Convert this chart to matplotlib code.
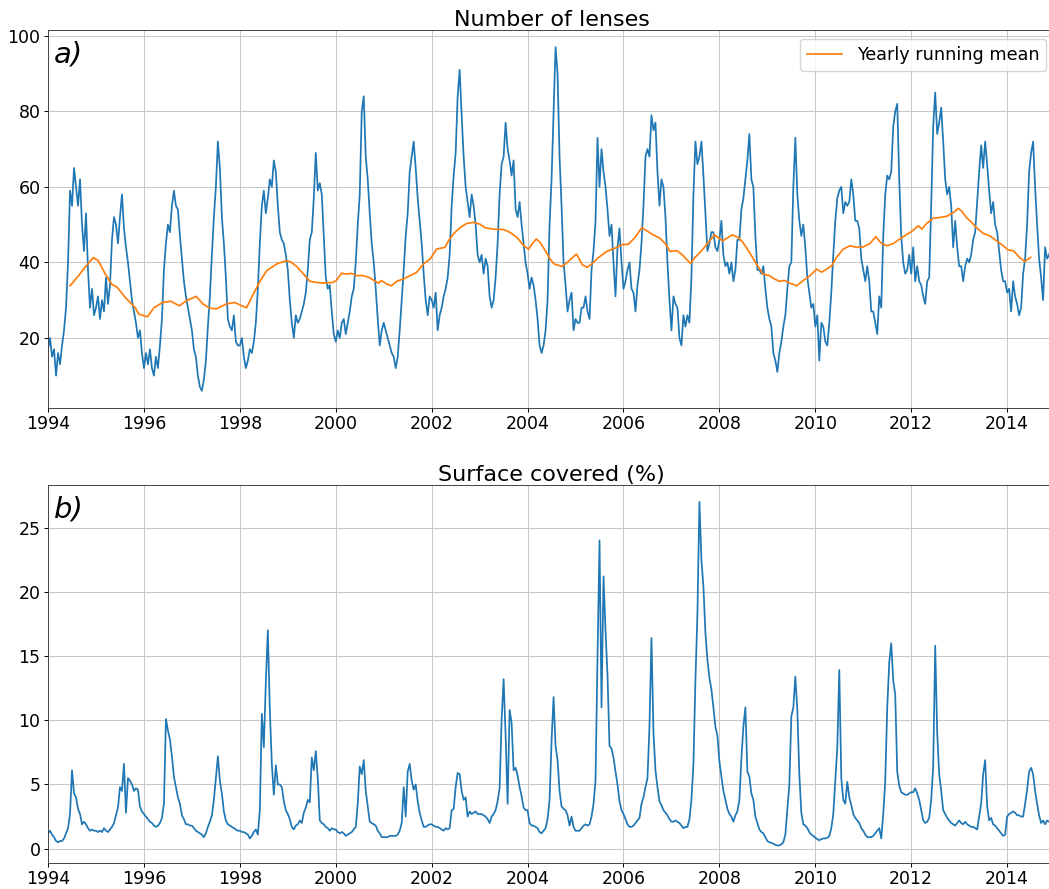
import numpy as np
import matplotlib
matplotlib.use("Agg")
import matplotlib.pyplot as plt

# half-monthly samples, one row per year (1994 ... 2014)
lenses = [
    17, 20, 15, 17, 10, 16, 13, 18, 22, 28, 40, 59, 55, 65, 60, 55, 62, 50, 43, 53, 38, 28, 33, 26,
    28, 31, 25, 30, 27, 36, 29, 34, 46, 52, 50, 45, 52, 58, 49, 44, 40, 35, 30, 27, 24, 20, 22, 16,
    12, 16, 13, 17, 12, 10, 15, 12, 18, 25, 38, 45, 50, 48, 55, 59, 55, 54, 47, 41, 35, 31, 28, 25,
    22, 17, 15, 10, 7, 6, 9, 14, 23, 31, 42, 52, 60, 72, 65, 52, 45, 36, 25, 23, 22, 26, 19, 18,
    18, 20, 15, 12, 14, 17, 16, 19, 24, 33, 45, 55, 59, 53, 57, 62, 60, 67, 64, 55, 48, 46, 45, 42,
    38, 30, 24, 20, 26, 24, 25, 27, 29, 32, 38, 46, 48, 57, 69, 59, 61, 58, 47, 36, 33, 34, 27, 21,
    19, 22, 20, 24, 25, 21, 24, 27, 31, 33, 40, 50, 58, 80, 84, 68, 62, 53, 45, 40, 33, 25, 18, 22,
    24, 22, 20, 18, 16, 15, 12, 15, 22, 30, 38, 47, 53, 64, 68, 72, 65, 57, 51, 45, 37, 30, 26, 31,
    30, 28, 32, 22, 26, 28, 31, 33, 36, 42, 55, 63, 69, 84, 91, 79, 68, 60, 56, 52, 58, 55, 50, 42,
    40, 42, 37, 41, 39, 31, 28, 30, 36, 45, 58, 66, 68, 77, 70, 67, 63, 67, 54, 52, 56, 50, 45, 40,
    37, 33, 36, 34, 30, 25, 18, 16, 18, 22, 30, 50, 62, 80, 97, 90, 68, 55, 40, 34, 27, 30, 32, 22,
    25, 24, 24, 28, 28, 31, 27, 25, 38, 43, 51, 73, 60, 70, 64, 60, 54, 47, 50, 40, 31, 44, 49, 40,
    33, 35, 38, 40, 33, 32, 27, 34, 38, 45, 55, 68, 70, 68, 79, 75, 77, 64, 55, 62, 60, 52, 40, 30,
    22, 31, 29, 28, 20, 18, 26, 23, 26, 24, 36, 58, 72, 66, 68, 72, 63, 53, 43, 45, 48, 48, 44, 43,
    46, 51, 42, 39, 40, 37, 40, 35, 38, 46, 46, 54, 57, 62, 67, 74, 62, 60, 47, 38, 38, 37, 39, 33,
    28, 25, 23, 16, 14, 11, 16, 19, 23, 26, 33, 39, 40, 60, 73, 58, 51, 47, 50, 44, 36, 32, 28, 29,
    23, 26, 14, 24, 23, 19, 18, 24, 32, 42, 51, 57, 59, 60, 53, 56, 55, 56, 62, 58, 51, 51, 49, 41,
    38, 35, 39, 35, 27, 27, 24, 21, 31, 28, 47, 58, 63, 62, 64, 76, 80, 82, 62, 47, 40, 37, 38, 42,
    37, 44, 35, 39, 35, 34, 31, 29, 35, 36, 55, 76, 85, 74, 77, 81, 72, 62, 58, 60, 55, 44, 51, 44,
    39, 39, 35, 39, 41, 40, 42, 46, 48, 56, 64, 71, 65, 72, 66, 59, 53, 56, 50, 48, 43, 38, 35, 35,
    32, 33, 27, 35, 31, 29, 26, 28, 37, 41, 50, 64, 69, 72, 60, 50, 41, 36, 30, 44, 41, 42, 44, 41,
]

surface = [
    1.2, 1.4, 1.1, 0.9, 0.6, 0.5, 0.6, 0.6, 0.8, 1.2, 1.6, 2.7, 6.1, 4.3, 4.0, 3.1, 2.7, 1.9, 2.1, 1.9, 1.6, 1.4, 1.5, 1.4,
    1.4, 1.3, 1.4, 1.3, 1.6, 1.4, 1.3, 1.5, 1.7, 2.0, 2.6, 3.2, 4.8, 4.5, 6.6, 2.8, 5.5, 5.3, 5.0, 4.5, 4.7, 4.6, 3.3, 2.9,
    2.7, 2.5, 2.3, 2.1, 2.0, 1.8, 1.7, 1.8, 2.0, 2.4, 3.5, 10.1, 9.2, 8.5, 7.2, 5.6, 4.8, 4.0, 3.5, 2.6, 2.3, 1.9, 1.9, 1.8,
    1.8, 1.6, 1.4, 1.3, 1.2, 1.1, 0.9, 1.2, 1.7, 2.1, 2.6, 3.8, 5.5, 7.2, 5.3, 4.3, 2.9, 2.2, 1.9, 1.8, 1.7, 1.6, 1.5, 1.4,
    1.4, 1.3, 1.3, 1.2, 1.1, 0.8, 1.0, 1.3, 1.5, 1.1, 3.0, 10.5, 7.9, 13.0, 17.0, 10.8, 6.6, 4.2, 6.5, 5.0, 5.0, 4.8, 3.7, 3.0,
    2.7, 2.3, 1.7, 1.5, 1.8, 1.9, 2.2, 2.0, 2.8, 3.2, 3.8, 3.6, 7.1, 6.1, 7.6, 5.5, 2.2, 2.0, 1.9, 1.7, 1.6, 1.4, 1.6, 1.5,
    1.5, 1.3, 1.2, 1.3, 1.2, 1.0, 1.1, 1.2, 1.3, 1.5, 1.7, 3.5, 6.4, 5.8, 6.9, 4.5, 3.3, 2.1, 2.0, 1.9, 1.8, 1.4, 1.2, 0.9,
    0.9, 0.9, 0.9, 1.0, 1.0, 1.0, 1.0, 1.1, 1.4, 2.0, 4.8, 2.5, 6.0, 6.6, 5.3, 4.6, 5.0, 3.7, 2.8, 2.2, 1.7, 1.7, 1.8, 1.9,
    1.9, 1.8, 1.7, 1.7, 1.6, 1.5, 1.4, 1.6, 1.5, 1.6, 3.0, 3.1, 4.8, 5.9, 5.8, 4.5, 3.8, 4.0, 2.5, 2.9, 2.7, 2.8, 2.9, 2.7,
    2.7, 2.7, 2.6, 2.5, 2.3, 2.0, 2.5, 2.7, 3.0, 3.7, 4.7, 10.0, 13.2, 8.8, 3.5, 10.8, 9.8, 6.1, 6.3, 5.7, 4.8, 4.1, 3.2, 3.0,
    3.0, 2.0, 1.8, 1.8, 1.7, 1.6, 1.3, 1.2, 1.4, 1.6, 2.3, 3.8, 8.4, 11.8, 8.0, 6.9, 4.5, 3.3, 3.1, 3.0, 2.6, 1.8, 2.5, 1.7,
    1.4, 1.4, 1.4, 1.6, 1.8, 1.9, 1.8, 1.9, 2.5, 3.5, 5.3, 15.0, 24.0, 11.0, 21.2, 17.0, 13.5, 8.0, 7.8, 7.1, 6.0, 5.0, 3.7, 3.0,
    2.7, 2.3, 1.9, 1.7, 1.7, 1.8, 2.0, 2.2, 2.4, 3.5, 4.0, 4.8, 5.5, 9.5, 16.4, 9.0, 6.1, 4.8, 3.7, 3.4, 3.0, 2.8, 2.6, 2.3,
    2.1, 2.1, 2.2, 2.1, 2.0, 1.8, 1.6, 1.7, 1.7, 2.3, 3.8, 6.6, 13.1, 18.3, 27.0, 22.5, 20.4, 16.8, 14.7, 13.3, 12.4, 11.0, 9.5, 8.8,
    6.8, 5.6, 4.5, 3.8, 3.1, 2.7, 2.5, 2.1, 2.6, 2.9, 3.8, 7.0, 9.5, 11.0, 6.0, 5.6, 4.3, 3.8, 2.5, 2.0, 1.5, 1.3, 1.2, 0.9,
    0.6, 0.5, 0.45, 0.4, 0.3, 0.25, 0.25, 0.35, 0.5, 1.1, 3.0, 5.0, 10.3, 11.0, 13.4, 10.8, 5.8, 2.8, 1.9, 1.8, 1.6, 1.3, 1.1, 1.0,
    0.85, 0.75, 0.65, 0.75, 0.8, 0.8, 0.85, 1.0, 1.6, 2.7, 5.3, 7.9, 13.9, 5.5, 3.8, 3.5, 5.2, 4.0, 3.4, 2.7, 2.4, 2.2, 2.0, 1.6,
    1.4, 1.1, 0.9, 0.9, 0.9, 1.0, 1.2, 1.4, 1.6, 0.8, 2.7, 5.3, 11.0, 14.5, 16.0, 13.1, 12.0, 6.0, 4.9, 4.4, 4.3, 4.2, 4.2, 4.3,
    4.4, 4.4, 4.7, 4.3, 3.8, 3.0, 2.2, 2.0, 2.1, 2.4, 3.8, 6.4, 15.8, 9.0, 5.8, 4.5, 3.0, 2.7, 2.4, 2.2, 2.0, 1.9, 1.8, 2.0,
    2.2, 2.0, 1.9, 2.1, 1.9, 1.8, 1.7, 1.7, 1.6, 1.5, 2.5, 3.5, 5.8, 6.9, 3.3, 2.2, 2.4, 1.9, 1.8, 1.6, 1.4, 1.2, 1.0, 1.1,
    2.5, 2.7, 2.8, 2.9, 2.8, 2.6, 2.6, 2.5, 2.5, 3.5, 4.6, 6.0, 6.3, 5.8, 4.5, 3.5, 2.6, 2.0, 2.2, 1.9, 2.2, 2.1, 2.0, 2.1,
]

# yearly running mean of the number of lenses
mean_years = [
    1994.46, 1994.63, 1994.77, 1994.95, 1995.05, 1995.19, 1995.33, 1995.44, 1995.61, 1995.82,
    1995.89, 1996.07, 1996.21, 1996.39, 1996.56, 1996.74, 1996.88, 1997.09, 1997.23, 1997.37,
    1997.51, 1997.72, 1997.89, 1998.04, 1998.14, 1998.28, 1998.42, 1998.56, 1998.77, 1998.95,
    1999.05, 1999.18, 1999.32, 1999.46, 1999.60, 1999.74, 1999.94, 2000.01, 2000.12, 2000.22,
    2000.33, 2000.43, 2000.57, 2000.71, 2000.89, 2000.95, 2001.06, 2001.16, 2001.27, 2001.41,
    2001.55, 2001.69, 2001.83, 2001.97, 2002.10, 2002.28, 2002.35, 2002.45, 2002.59, 2002.73,
    2002.87, 2003.01, 2003.11, 2003.29, 2003.50, 2003.64, 2003.78, 2003.92, 2004.02, 2004.09,
    2004.18, 2004.26, 2004.37, 2004.47, 2004.55, 2004.72, 2004.86, 2005.02, 2005.14, 2005.24,
    2005.34, 2005.48, 2005.65, 2005.83, 2005.97, 2006.10, 2006.24, 2006.38, 2006.48, 2006.62,
    2006.76, 2006.87, 2006.97, 2007.11, 2007.21, 2007.31, 2007.40, 2007.49, 2007.63, 2007.77,
    2007.90, 2007.97, 2008.07, 2008.18, 2008.27, 2008.39, 2008.49, 2008.63, 2008.77, 2008.91,
    2009.04, 2009.15, 2009.25, 2009.36, 2009.46, 2009.56, 2009.61, 2009.75, 2009.89, 2010.03,
    2010.13, 2010.24, 2010.34, 2010.44, 2010.58, 2010.72, 2010.86, 2011.00, 2011.14, 2011.26,
    2011.38, 2011.49, 2011.63, 2011.76, 2011.90, 2012.01, 2012.15, 2012.22, 2012.32, 2012.46,
    2012.60, 2012.74, 2012.88, 2012.98, 2013.05, 2013.15, 2013.26, 2013.36, 2013.50, 2013.64,
    2013.78, 2013.92, 2014.02, 2014.13, 2014.26, 2014.37, 2014.44, 2014.49,
]
mean_lenses = [
    33.8, 36.4, 38.7, 41.3, 40.4, 37.0, 34.2, 33.4, 30.7, 28.0,
    26.3, 25.6, 28.0, 29.4, 29.7, 28.5, 29.8, 31.0, 29.0, 27.9,
    27.7, 29.0, 29.4, 28.5, 28.0, 31.6, 35.0, 37.8, 39.6, 40.4,
    40.2, 39.0, 37.0, 35.0, 34.7, 34.5, 34.7, 35.2, 37.1, 36.9,
    37.1, 36.5, 36.5, 35.9, 34.5, 35.2, 34.3, 33.8, 35.0, 35.6,
    36.5, 37.4, 39.6, 40.9, 43.5, 44.0, 45.7, 47.5, 49.2, 50.3,
    50.6, 50.1, 49.2, 48.8, 48.7, 47.9, 46.6, 44.4, 43.5, 44.8,
    46.2, 45.3, 43.1, 40.9, 39.6, 38.9, 40.4, 42.2, 39.4, 38.7,
    39.6, 41.3, 42.9, 43.8, 44.7, 44.8, 46.6, 49.2, 48.4, 47.3,
    46.4, 45.0, 42.9, 43.1, 42.2, 40.9, 39.7, 41.3, 43.1, 45.3,
    47.3, 46.6, 45.7, 46.6, 47.3, 46.6, 45.3, 42.6, 39.6, 36.9,
    36.5, 35.6, 35.0, 35.2, 34.5, 34.1, 33.8, 35.2, 36.5, 38.2,
    37.4, 38.2, 39.1, 41.3, 43.5, 44.4, 44.0, 44.1, 45.0, 46.8,
    45.0, 44.4, 45.0, 46.2, 47.3, 48.2, 49.7, 48.8, 50.3, 51.7,
    51.9, 52.2, 53.2, 54.3, 53.6, 51.9, 50.6, 49.2, 47.7, 47.0,
    45.7, 44.4, 43.3, 43.1, 41.3, 40.2, 40.9, 41.3,
]

year_ticks = list(range(1994, 2015, 2))

t = 1994 + np.arange(len(lenses)) / 24.0

plt.rcParams.update({
    "font.size": 12.5,
    "lines.linewidth": 1.25,
    "axes.linewidth": 0.7,
    "axes.edgecolor": "#444444",
    "grid.linewidth": 0.7,
    "grid.color": "#c6c6c6",
    "xtick.major.size": 2.7,
    "ytick.major.size": 2.7,
    "xtick.major.width": 0.7,
    "ytick.major.width": 0.7,
    "xtick.major.pad": 2.7,
    "ytick.major.pad": 2.7,
})

fig = plt.figure(figsize=(10.49, 8.89), dpi=100)
ax1 = fig.add_axes([0.0458, 0.5411, 0.960, 0.4252])
ax2 = fig.add_axes([0.0458, 0.0296, 0.960, 0.4252])

ax1.plot(t, lenses, color="C0")
ax1.plot(mean_years, mean_lenses, color="C1", label="Yearly running mean")
ax1.set_title("Number of lenses", fontsize=16, pad=2.7)
ax1.legend(loc="upper right", fontsize=12.7)
ax1.text(0.006, 0.972, "a)", transform=ax1.transAxes, fontsize=21,
         style="italic", va="top", ha="left")

ax2.plot(t, surface, color="C0")
ax2.set_title("Surface covered (%)", fontsize=16, pad=2.7)
ax2.text(0.006, 0.972, "b)", transform=ax2.transAxes, fontsize=21,
         style="italic", va="top", ha="left")

for ax in (ax1, ax2):
    ax.set_xlim(1994, 2015)
    ax.set_xticks(year_ticks)
    ax.set_xticklabels([str(y) for y in year_ticks])
    ax.grid(True)

fig.savefig("out.png", dpi=100)
